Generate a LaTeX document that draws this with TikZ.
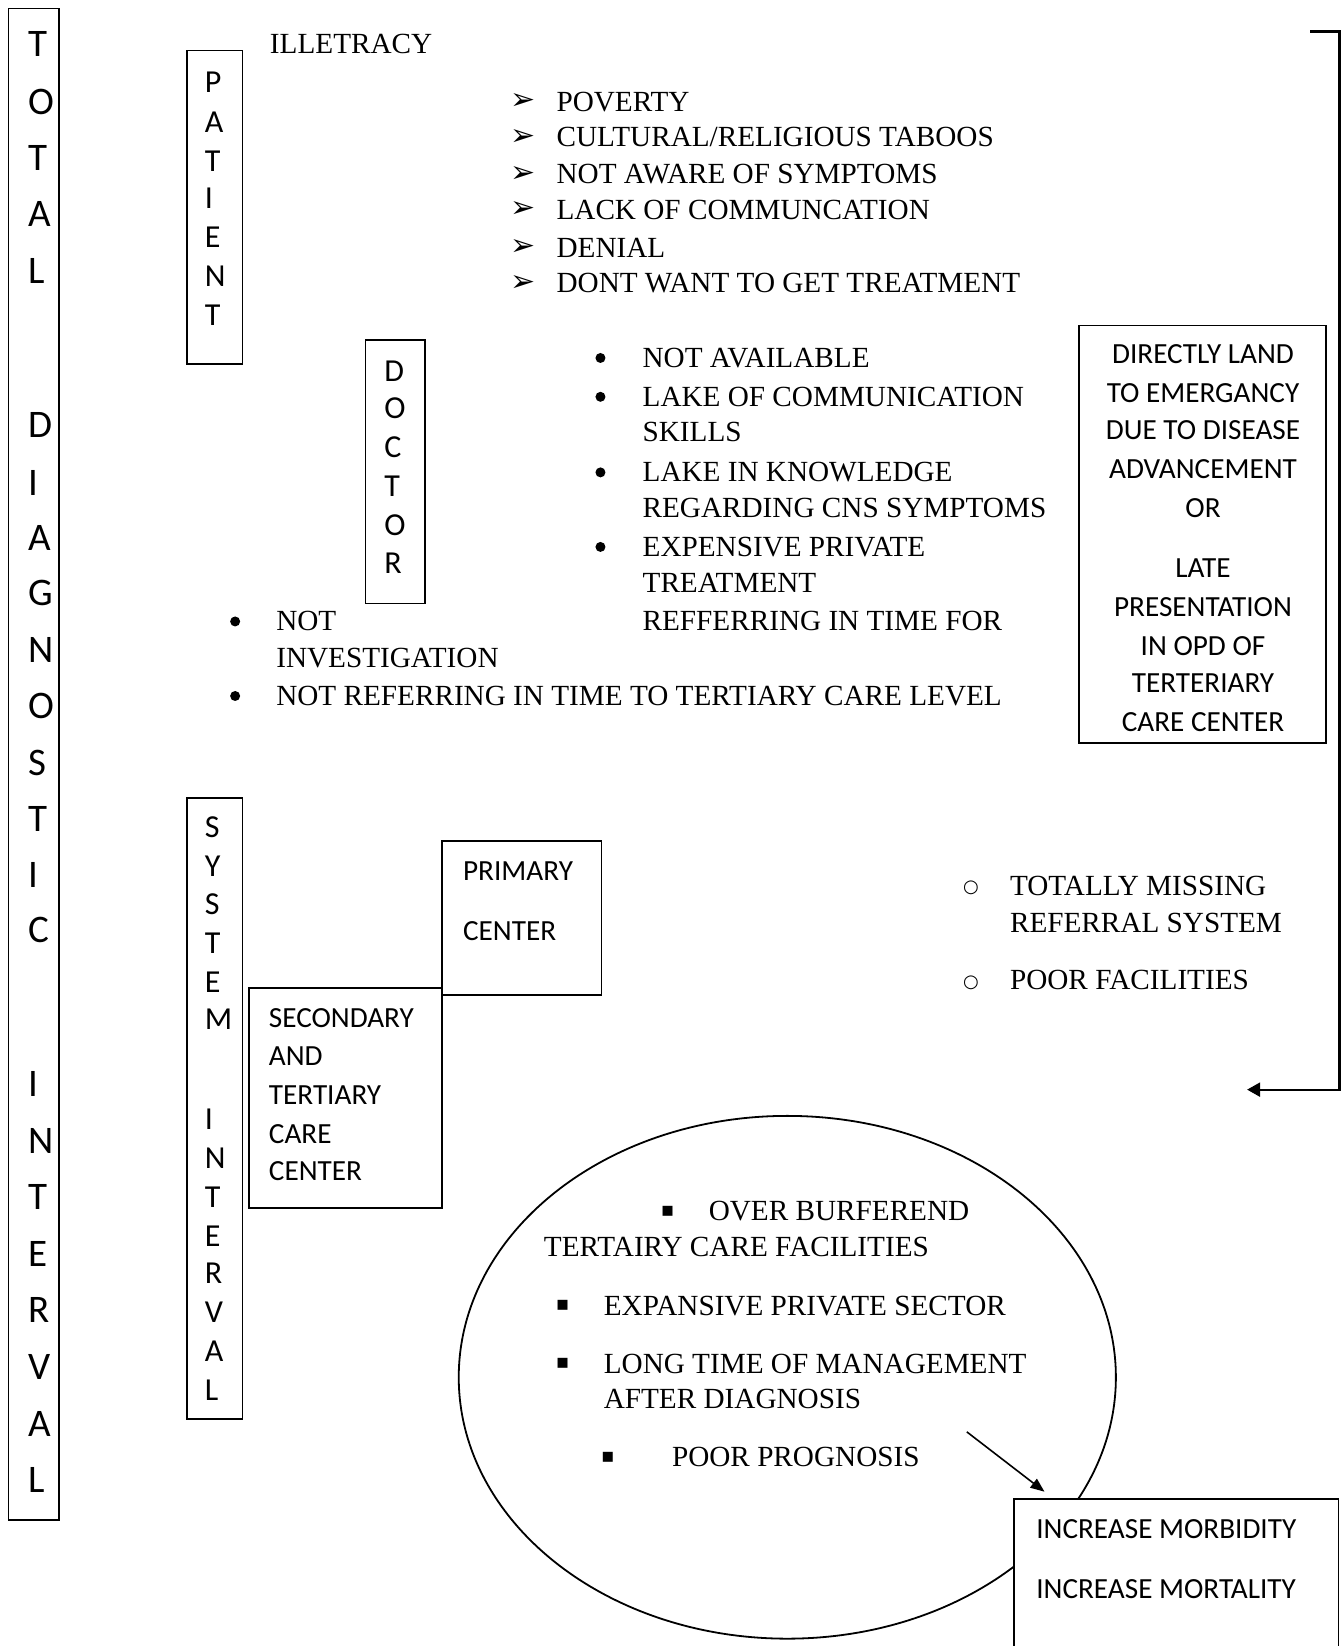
\documentclass[tikz,border=0pt]{standalone}
\usepackage{fontspec}
\setmainfont{Liberation Serif}
\newfontfamily\calfont{Carlito}
\newfontfamily\djvfont{DejaVu Sans}
\usetikzlibrary{arrows.meta,fit,shapes.geometric}
\tikzset{
  box/.style={draw,line width=1.6pt,inner sep=0pt},
  tt/.style={font=\fontsize{29.2}{35}\selectfont,anchor=base west,inner sep=0pt},
  ct/.style={font=\calfont\fontsize{29.2}{35}\selectfont,anchor=base west,inner sep=0pt},
  cc/.style={font=\calfont\fontsize{29.2}{35}\selectfont,anchor=base,inner sep=0pt},
  vl/.style={font=\calfont\fontsize{32}{38}\selectfont,anchor=base west,inner sep=0pt},
  big/.style={font=\calfont\fontsize{39}{46}\selectfont,anchor=base west,inner sep=0pt},
  arw/.style={font=\djvfont\fontsize{30}{30}\selectfont,inner sep=0pt},
  dot/.style={circle,fill=black,minimum size=10pt,inner sep=0pt},
  sq/.style={font=\djvfont\fontsize{20}{20}\selectfont,inner sep=0pt},
  ob/.style={font=\djvfont\fontsize{18}{18}\selectfont,inner sep=0pt},
  conn/.style={line width=2.2pt,line join=miter,-{Triangle[length=13pt,width=14pt]}},
}
\begin{document}
\begin{tikzpicture}[x=1.0493pt,y=-1.0493pt]
\useasboundingbox (0,0) rectangle (1277,1568);
\fill[white] (0,0) rectangle (1277,1568);

% TOTAL DIAGNOSTIC INTERVAL
\node[box,fit={(8,8) (56,1448)}] (totalbox) {};
\foreach \l/\y [count=\i] in {T/42,O/97,T/150,A/204,L/258,D/405,I/460,A/512,G/565,N/619,O/672,S/727,T/780,I/833,C/886,I/1033,N/1087,T/1140,E/1194,R/1248,V/1302,A/1356,L/1410}
  \node[big] (tot\i) at (27,\y+12) {\l};

% PATIENT
\node[box,fit={(178,48) (231,347)}] (patbox) {};
\foreach \l/\y [count=\i] in {P/78,A/116,T/153,I/189,E/226,N/263,T/300}
  \node[vl] (pat\i) at (195,\y+10) {\l};
\node[tt] (ill) at (257,51) {ILLETRACY};

\node[arw] (a1) at (498,97) {➢}; \node[tt] (p1) at (530,106) {POVERTY};
\node[arw] (a2) at (498,131) {➢}; \node[tt] (p2) at (530,140) {CULTURAL/RELIGIOUS TABOOS};
\node[arw] (a3) at (498,166) {➢}; \node[tt] (p3) at (530,175) {NOT AWARE OF SYMPTOMS};
\node[arw] (a4) at (498,200) {➢}; \node[tt] (p4) at (530,209) {LACK OF COMMUNCATION};
\node[arw] (a5) at (498,236) {➢}; \node[tt] (p5) at (530,245) {DENIAL};
\node[arw] (a6) at (498,270) {➢}; \node[tt] (p6) at (530,279) {DONT WANT TO GET TREATMENT};

% DOCTOR
\node[box,fit={(348,324) (405,575)}] (docbox) {};
\foreach \l/\y [count=\i] in {D/353,O/389,C/426,T/463,O/500,R/536}
  \node[vl] (doc\i) at (366,\y+10) {\l};

\node[dot] (b1) at (572,341) {}; \node[tt] (d1) at (612,350) {NOT AVAILABLE};
\node[dot] (b2) at (572,378) {}; \node[tt] (d2) at (612,387) {LAKE OF COMMUNICATION};
\node[tt] (d3) at (612,421) {SKILLS};
\node[dot] (b3) at (572,450) {}; \node[tt] (d4) at (612,459) {LAKE IN KNOWLEDGE};
\node[tt] (d5) at (612,493) {REGARDING CNS SYMPTOMS};
\node[dot] (b4) at (572,521) {}; \node[tt] (d6) at (612,530) {EXPENSIVE PRIVATE};
\node[tt] (d7) at (612,564) {TREATMENT};
\node[tt] (d8) at (612,601) {REFFERRING IN TIME FOR};

\node[dot] (b5) at (224,592) {}; \node[tt] (e1) at (263,601) {NOT};
\node[tt] (e2) at (263,636) {INVESTIGATION};
\node[dot] (b6) at (224,663) {}; \node[tt] (e3) at (263,672) {NOT REFERRING IN TIME TO TERTIARY CARE LEVEL};

% DIRECTLY LAND box
\node[box,fit={(1028,310) (1263,708)}] (landbox) {};
\node[cc] (l1) at (1146,346) {DIRECTLY LAND};
\node[cc] (l2) at (1146,383) {TO EMERGANCY};
\node[cc] (l3) at (1146,419) {DUE TO DISEASE};
\node[cc] (l4) at (1146,456) {ADVANCEMENT};
\node[cc] (l5) at (1146,493) {OR};
\node[cc] (l6) at (1146,550) {LATE};
\node[cc] (l7) at (1146,587) {PRESENTATION};
\node[cc] (l8) at (1146,624) {IN OPD OF};
\node[cc] (l9) at (1146,660) {TERTERIARY};
\node[cc] (l10) at (1146,697) {CARE CENTER};

% right bracket
\coordinate (brS) at (1248,30);
\coordinate (brT) at (1276,30);
\coordinate (brB) at (1276,1038);
\coordinate (brE) at (1188,1038);
\draw[conn] (brS) -- (brT) -- (brB) -- (brE);

% SYSTEM INTERVAL
\node[box,fit={(178,760) (231,1352)}] (sysbox) {};
\foreach \l/\y [count=\i] in {S/788,Y/825,S/861,T/898,E/935,M/971,I/1066,N/1103,T/1140,E/1177,R/1213,V/1250,A/1287,L/1324}
  \node[vl] (sys\i) at (195,\y+10) {\l};

\node[box,fit={(421,801) (573,948)}] (primbox) {};
\node[ct] (pr1) at (441,839) {PRIMARY};
\node[ct] (pr2) at (441,896) {CENTER};

\node[box,fit={(237,941) (421,1151)}] (secbox) {};
\node[ct] (s1) at (256,979) {SECONDARY};
\node[ct] (s2) at (256,1015) {AND};
\node[ct] (s3) at (256,1052) {TERTIARY};
\node[ct] (s4) at (256,1089) {CARE};
\node[ct] (s5) at (256,1125) {CENTER};

\node[ob] (o1) at (925,846) {○}; \node[tt] (r1) at (962,853) {TOTALLY MISSING};
\node[tt] (r2) at (962,888) {REFERRAL SYSTEM};
\node[ob] (o2) at (925,936) {○}; \node[tt] (r3) at (962,943) {POOR FACILITIES};

% ellipse
\draw[line width=1.8pt] (750,1312) ellipse [x radius=313, y radius=249];
\node[sq] (q1) at (636,1154) {▪}; \node[tt] (t1) at (675,1163) {OVER BURFEREND};
\node[tt] (t2) at (518,1197) {TERTAIRY CARE FACILITIES};
\node[sq] (q2) at (536,1244) {▪}; \node[tt] (t3) at (575,1253) {EXPANSIVE PRIVATE SECTOR};
\node[sq] (q3) at (536,1299) {▪}; \node[tt] (t4) at (575,1308) {LONG TIME OF MANAGEMENT};
\node[tt] (t5) at (575,1342) {AFTER DIAGNOSIS};
\node[sq] (q4) at (579,1388) {▪}; \node[tt] (t6) at (640,1397) {POOR PROGNOSIS};

% increase box
\node[box,fill=white,fit={(966,1428) (1275,1590)}] (incbox) {};
\node[ct] (i1) at (987,1466) {INCREASE MORBIDITY};
\node[ct] (i2) at (987,1523) {INCREASE MORTALITY};

\coordinate (arS) at (921,1364);
\coordinate (arE) at (995,1421);
\draw[line width=1.6pt,-{Triangle[length=14pt,width=11pt]}] (arS) -- (arE);
\end{tikzpicture}
\end{document}
